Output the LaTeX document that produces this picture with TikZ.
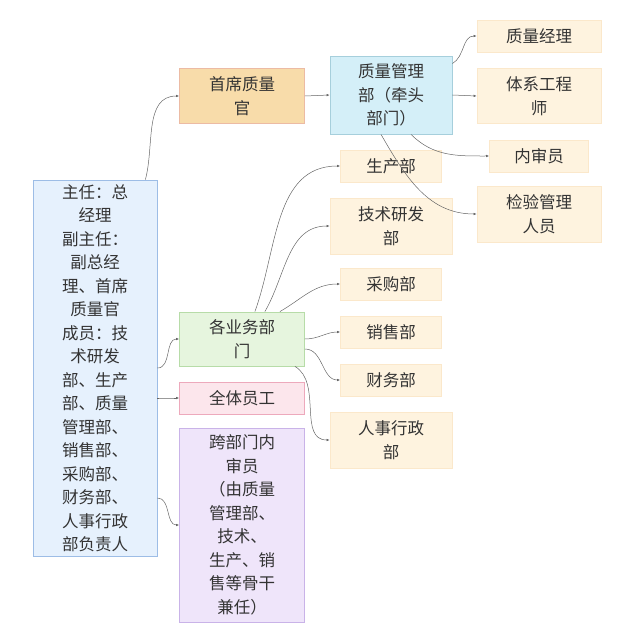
\documentclass[tikz,border=0pt]{standalone}
\usepackage{fontspec}
\setmainfont{Noto Sans CJK SC}
\usetikzlibrary{arrows.meta}
\definecolor{leaffill}{HTML}{FEF3DF}
\definecolor{leafdraw}{HTML}{FBE8CB}
\definecolor{headfill}{HTML}{E6F1FD}
\definecolor{headdraw}{HTML}{9DBDE6}
\definecolor{cqofill}{HTML}{F8DCAA}
\definecolor{cqodraw}{HTML}{ECBBA4}
\definecolor{qmdfill}{HTML}{D4EFF8}
\definecolor{qmddraw}{HTML}{A6CFDC}
\definecolor{bizfill}{HTML}{E6F5DE}
\definecolor{bizdraw}{HTML}{B7DCA8}
\definecolor{stafffill}{HTML}{FCE6EC}
\definecolor{staffdraw}{HTML}{EDA9BC}
\definecolor{auditfill}{HTML}{EFE5FA}
\definecolor{auditdraw}{HTML}{C9B3E8}
\tikzset{
  box/.style={draw, line width=0.8pt, align=center, font=\fontsize{16.5}{23.5}\selectfont, text=black!80, inner sep=2pt},
  leaf/.style={box, draw=leafdraw, fill=leaffill},
  link/.style={draw=black!60, line width=0.5pt, -{Latex[length=3pt,width=2.5pt]}},
}
\begin{document}
\begin{tikzpicture}[x=1pt, y=-1pt]
  \useasboundingbox (0,0) rectangle (634,644);

  % left column
  \node[box, draw=headdraw, fill=headfill, minimum width=124pt, minimum height=376pt, text width=118pt] (head) at (95,368)
    {主任：总\\经理\\副主任：\\副总经\\理、首席\\质量官\\成员：技\\术研发\\部、生产\\部、质量\\管理部、\\销售部、\\采购部、\\财务部、\\人事行政\\部负责人};

  \node[box, draw=cqodraw, fill=cqofill, minimum width=125pt, minimum height=55pt, text width=100pt] (cqo) at (242,96) {首席质量\\官};
  \node[box, draw=qmddraw, fill=qmdfill, minimum width=122pt, minimum height=78pt, text width=100pt] (qmd) at (391,95) {质量管理\\部（牵头\\部门）};
  \node[box, draw=bizdraw, fill=bizfill, minimum width=125pt, minimum height=54pt, text width=100pt] (biz) at (242,339) {各业务部\\门};
  \node[box, draw=staffdraw, fill=stafffill, minimum width=125pt, minimum height=32pt] (staff) at (242,398) {全体员工};
  \node[box, draw=auditdraw, fill=auditfill, minimum width=125pt, minimum height=194pt, text width=100pt] (audit) at (242,525)
    {跨部门内\\审员\\（由质量\\管理部、\\技术、\\生产、销\\售等骨干\\兼任）};

  % right column
  \node[leaf, minimum width=124pt, minimum height=32pt] (qm) at (539,36) {质量经理};
  \node[leaf, minimum width=124pt, minimum height=55pt, text width=100pt] (se) at (539,96) {体系工程\\师};
  \node[leaf, minimum width=99pt, minimum height=32pt] (ia) at (539,156) {内审员};
  \node[leaf, minimum width=124pt, minimum height=56pt, text width=100pt] (im) at (539,214) {检验管理\\人员};

  \node[leaf, minimum width=101pt, minimum height=32pt] (prod) at (391,166) {生产部};
  \node[leaf, minimum width=122pt, minimum height=56pt, text width=100pt] (rd) at (391,226) {技术研发\\部};
  \node[leaf, minimum width=101pt, minimum height=32pt] (buy) at (391,284) {采购部};
  \node[leaf, minimum width=101pt, minimum height=32pt] (sale) at (391,332) {销售部};
  \node[leaf, minimum width=101pt, minimum height=32pt] (fin) at (391,380) {财务部};
  \node[leaf, minimum width=122pt, minimum height=56pt, text width=100pt] (hr) at (391,440) {人事行政\\部};

  % connectors
  \draw[link] (head.north east) ++(-12,0) to[out=75, in=180] (cqo.west);
  \draw[link] (head.east) to[out=0, in=180] (biz.west);
  \draw[link] (head.east) ++(0,30) to[out=0, in=180] (staff.west);
  \draw[link] (head.east) ++(0,130) to[out=0, in=180] (audit.west);
  \draw[link] (cqo.east) -- (qmd.west);
  \draw[link] (qmd.north east) ++(0,8) to[out=30, in=180] (qm.west);
  \draw[link] (qmd.east) -- (se.west);
  \draw[link] (qmd.south) ++(20,0) to[out=-45, in=180] (ia.west);
  \draw[link] (qmd.south) ++(-10,0) to[out=-60, in=180] (im.west);
  \draw[link] (biz.north east) ++(-50,0) to[out=70, in=180] (prod.west);
  \draw[link] (biz.north east) ++(-40,0) to[out=60, in=180] (rd.west);
  \draw[link] (biz.north east) ++(-25,0) to[out=30, in=180] (buy.west);
  \draw[link] (biz.east) to[out=0, in=180] (sale.west);
  \draw[link] (biz.east) ++(0,10) to[out=0, in=180] (fin.west);
  \draw[link] (biz.south east) ++(-10,0) to[out=-30, in=180] (hr.west);
\end{tikzpicture}
\end{document}
